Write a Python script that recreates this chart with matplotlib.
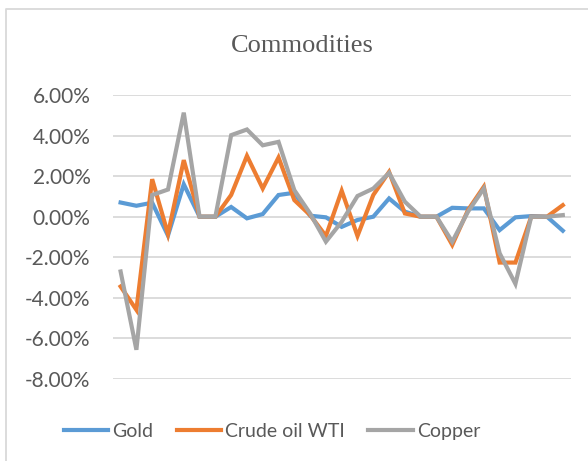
import matplotlib
matplotlib.use("Agg")
import matplotlib.pyplot as plt
from matplotlib.lines import Line2D
from matplotlib.ticker import FuncFormatter

# monthly % changes
gold = [0.70, 0.54, 0.69, -0.93, 1.60, 0.0, 0.0, 0.48, -0.08, 0.13,
        1.07, 1.18, 0.05, -0.03, -0.50, -0.16, 0.0, 0.90, 0.25, 0.0,
        0.0, 0.44, 0.41, 0.41, -0.66, -0.03, 0.03, 0.0, -0.69]
crude = [-3.44, -4.59, 1.85, -0.85, 2.79, 0.0, 0.0, 1.07, 3.00, 1.39,
         2.92, 0.82, 0.08, -0.95, 1.28, -0.95, 1.07, 2.21, 0.16, 0.0,
         0.0, -1.39, 0.33, 1.48, -2.26, -2.26, 0.0, 0.0, 0.57]
copper = [-2.70, -6.56, 1.07, 1.34, 5.13, 0.0, 0.0, 4.02, 4.30, 3.52,
          3.69, 1.31, 0.16, -1.23, -0.25, 1.02, 1.39, 2.16, 0.74, 0.0,
          0.0, -1.23, 0.25, 1.39, -1.80, -3.31, 0.0, 0.0, 0.08]

series = [("Gold", gold, "#5B9BD5"),
          ("Crude oil WTI", crude, "#ED7D31"),
          ("Copper", copper, "#A5A5A5")]

W, H = 588, 461
fig = plt.figure(figsize=(W / 100, H / 100), dpi=100)
ax = fig.add_axes([112.7 / W, 1 - 379 / H, 458 / W, 284 / H])

x = list(range(len(gold)))
for name, vals, col in series:
    ax.plot(x, vals, color=col, lw=3.0, label=name, solid_joinstyle="miter")

ax.set_xlim(-0.5, len(gold) - 0.5)
ax.set_ylim(-8, 6)
ax.set_yticks(range(-8, 7, 2))
ax.yaxis.set_major_formatter(FuncFormatter(lambda v, p: f"{v:.2f}%"))
ax.set_xticks([])
ax.grid(axis="y", color="#D9D9D9", lw=1.3)
ax.set_axisbelow(True)
for s in ax.spines.values():
    s.set_visible(False)
ax.tick_params(axis="y", length=0, pad=16, labelsize=15, labelcolor="#595959")
for t in ax.get_yticklabels():
    t.set_fontfamily("Lato")

fig.text(302 / W, 1 - 46 / H, "Commodities", ha="center", va="center",
         fontsize=19, family="Liberation Serif", color="#595959")

leg = fig.legend(loc="center", bbox_to_anchor=(272 / W, 1 - 431 / H), ncol=3,
                 frameon=False, handlelength=2.3, handletextpad=0.2,
                 columnspacing=1.2, prop={"family": "Lato", "size": 14})
for t in leg.get_texts():
    t.set_color("#595959")

# chart frame (left and top edges visible)
fig.add_artist(Line2D([6 / W, 6 / W, 1], [0, 1 - 9 / H, 1 - 9 / H],
                      transform=fig.transFigure, color="#D9D9D9", lw=1.3))

fig.savefig("out.png", dpi=100)
